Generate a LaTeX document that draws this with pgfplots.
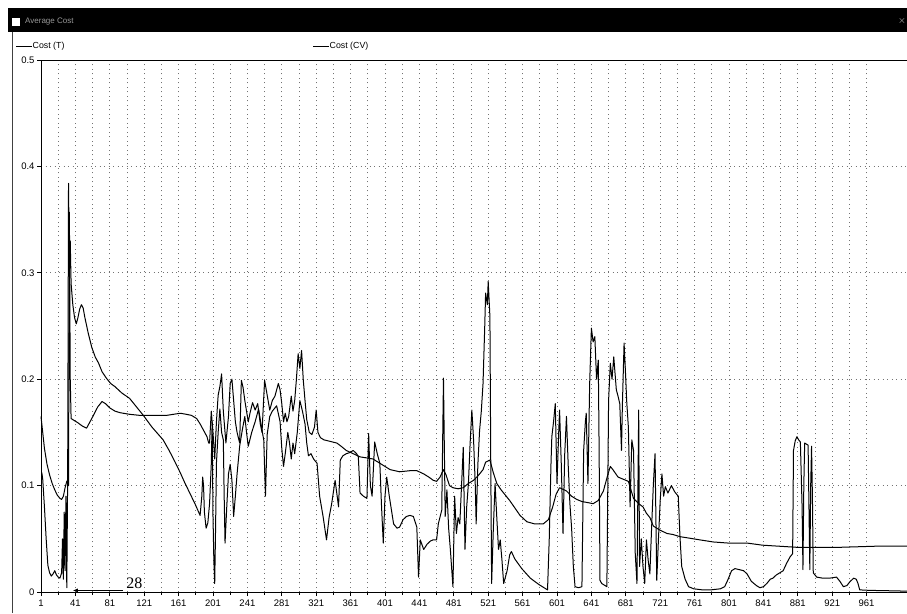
\documentclass[border=0pt]{standalone}
\usepackage{fontspec}
\setmainfont{Liberation Sans}
\newfontfamily\serifnum{Liberation Serif}
\usepackage{pgfplots}
\pgfplotsset{compat=1.18}
\usetikzlibrary{arrows.meta}
\begin{document}
\begin{tikzpicture}[x=1pt,y=1pt]
\path[use as bounding box] (0,0) rectangle (907,613);
% window title bar
\fill[black] (8,581) rectangle (907,605);
\fill[white] (12,587) rectangle (20,595);
\node[anchor=west, text=black!40, font=\fontsize{8}{9}\selectfont, inner sep=0pt] at (25,591) {Average Cost};
\node[text=white!85!black, font=\fontsize{10}{10}\selectfont, inner sep=0pt] at (902,592) {$\times$};
\draw[line width=1.8pt, black!75] (12.5,0) -- (12.5,581);
% legend
\draw[black, line width=0.8pt] (16,567) -- (32,567);
\node[anchor=west, font=\fontsize{8.8}{10}\selectfont, inner sep=0pt] at (32.5,567) {Cost (T)};
\draw[black, line width=0.8pt] (313,567) -- (329,567);
\node[anchor=west, font=\fontsize{8.8}{10}\selectfont, inner sep=0pt] at (329.5,567) {Cost (CV)};
\begin{axis}[
  at={(41pt,21pt)}, anchor=south west,
  scale only axis, width=866pt, height=532pt,
  xmin=1, xmax=1008, ymin=0, ymax=0.5,
  axis x line*=bottom, axis y line*=left,
  axis line style={black, line width=0.9pt},
  xtick={1,41,...,961}, minor x tick num=1,
  ytick={0,0.1,0.2,0.3,0.4,0.5},
  yticklabels={0,0.1,0.2,0.3,0.4,0.5},
  tick align=outside, major tick length=4pt, minor tick length=2.5pt,
  tick style={black, line width=0.7pt},
  xmajorgrids, xminorgrids, ymajorgrids,
  major grid style={black!55, line width=0.6pt, dash pattern=on 1pt off 3.5pt},
  minor grid style={black!55, line width=0.6pt, dash pattern=on 1pt off 3.5pt},
  /pgf/number format/assume math mode=true,
  ticklabel style={font=\fontsize{9.5}{10}\selectfont},
  xticklabel style={yshift=0pt},
  yticklabel style={xshift=1pt},
  clip=false,
]
% Cost (T)
\addplot[black, line width=1pt, line join=round] coordinates {
(1,0.165)(3,0.15)(5,0.135)(8,0.12)(11,0.11)(14,0.102)(17,0.096)(20,0.091)(23,0.088)(25,0.087)(27,0.09)(29,0.098)(31,0.104)(32,0.105)(33,0.384)(34,0.30)(35,0.33)(36,0.29)(38,0.27)(40,0.258)(42,0.252)(44,0.258)(46,0.266)(48,0.27)(50,0.267)(52,0.258)(56,0.243)(60,0.23)(64,0.221)(68,0.215)(72,0.207)(77,0.201)(82,0.196)(87,0.193)(95,0.187)(104,0.182)(112,0.174)(120,0.166)(130,0.155)(143,0.143)(150,0.133)(157,0.122)(163,0.112)(168,0.103)(174,0.093)(180,0.083)(186,0.072)
(188,0.09)(189,0.108)(190,0.1)(191,0.075)(193,0.06)(195,0.065)(197,0.083)(199,0.12)(200,0.16)(201,0.071)(202,0.03)(203,0.008)(204,0.06)(205,0.121)(207,0.15)(209,0.172)(211,0.15)(213,0.143)(214,0.09)(215,0.046)(217,0.08)(219,0.111)(221,0.12)(223,0.105)(225,0.071)(227,0.09)(229,0.111)(232,0.137)(235,0.152)(238,0.165)(240,0.15)(242,0.137)(246,0.15)(250,0.16)(254,0.172)(258,0.152)(260,0.143)(262,0.09)(264,0.148)(267,0.165)(270,0.17)(275,0.175)(279,0.16)(281,0.135)(283,0.118)(285,0.13)(288,0.15)(290,0.14)(292,0.125)(294,0.14)(296,0.13)(299,0.15)(302,0.18)(305,0.17)(308,0.158)(310,0.14)(312,0.128)(315,0.13)(318,0.125)(322,0.121)(325,0.09)(329,0.071)(333,0.049)(336,0.07)(339,0.083)(343,0.105)(347,0.08)(349,0.124)(352,0.128)(356,0.13)(360,0.131)(364,0.133)(368,0.13)(370,0.127)(372,0.093)(376,0.09)(380,0.088)(382,0.149)(384,0.1)(386,0.09)(389,0.141)(392,0.13)(395,0.121)(397,0.08)(399,0.046)(401,0.09)(403,0.108)(406,0.09)(411,0.064)(415,0.06)(418,0.061)(422,0.068)(426,0.071)(430,0.072)(434,0.071)(438,0.061)(440,0.014)(442,0.049)(446,0.04)(450,0.045)(454,0.048)(457,0.049)(461,0.049)(463,0.064)(467,0.077)(469,0.201)(471,0.071)(473,0.096)(475,0.06)(477,0.04)(480,0.005)(482,0.09)(484,0.055)(486,0.07)(488,0.064)(490,0.1)(492,0.136)(494,0.04)(496,0.08)(498,0.102)(500,0.14)(502,0.171)(504,0.143)(506,0.1)(507,0.064)(509,0.12)(511,0.152)(513,0.17)(515,0.196)(517,0.25)(518,0.281)(520,0.27)(521,0.292)(523,0.259)(524,0.12)(525,0.008)(527,0.06)(529,0.102)(531,0.07)(533,0.04)(535,0.049)(537,0.03)(539,0.008)(543,0.02)(546,0.035)(548,0.038)(552,0.031)(560,0.022)(570,0.013)(580,0.007)(588,0.003)(590,0.002)(592,0.05)(594,0.12)(595,0.146)(597,0.16)(599,0.177)(601,0.102)(603,0.15)(604,0.171)(606,0.12)(608,0.055)(610,0.13)(612,0.165)(614,0.12)(616,0.083)(618,0.06)(620,0.024)(622,0.005)(626,0.004)(630,0.005)(632,0.133)(634,0.16)(635,0.168)(637,0.102)(639,0.196)(641,0.248)(643,0.235)(645,0.24)(647,0.2)(649,0.218)(650,0.133)(651,0.011)(653,0.008)(657,0.006)(659,0.005)(661,0.18)(663,0.215)(665,0.2)(667,0.221)(670,0.19)(672,0.184)(674,0.177)(676,0.133)(677,0.174)(679,0.234)(681,0.2)(682,0.18)(684,0.155)(686,0.08)(688,0.143)(690,0.133)(692,0.036)(694,0.008)(696,0.171)(697,0.024)(699,0.05)(701,0.024)(703,0.008)(705,0.049)(707,0.03)(709,0.017)(711,0.06)(713,0.1)(715,0.13)(717,0.011)(719,0.05)(721,0.086)(723,0.111)(725,0.09)(727,0.099)(730,0.093)(734,0.1)(738,0.094)(742,0.09)(744,0.052)(746,0.024)(750,0.012)(754,0.005)(760,0.003)(770,0.002)(780,0.002)(791,0.003)(796,0.005)(800,0.012)(804,0.02)(808,0.022)(813,0.021)(818,0.02)(822,0.017)(827,0.01)(833,0.006)(837,0.004)(841,0.005)(845,0.008)(849,0.012)(852,0.013)(856,0.016)(860,0.018)(864,0.02)(868,0.027)(872,0.033)(875,0.036)(876,0.133)(878,0.142)(880,0.146)(882,0.143)(884,0.141)(886,0.08)(887,0.021)(888,0.1)(889,0.14)(891,0.139)(893,0.138)(895,0.021)(896,0.1)(897,0.137)(898,0.09)(899,0.018)(903,0.014)(910,0.013)(918,0.013)(926,0.014)(930,0.01)(934,0.005)(938,0.006)(942,0.01)(946,0.013)(949,0.012)(951,0.008)(953,0.002)(965,0.0015)(980,0.0013)(1008,0.0008)
};
% Cost (CV)
\addplot[black, line width=1pt, line join=round] coordinates {
(1,0.112)(2,0.112)(3,0.106)(5,0.08)(7,0.05)(9,0.025)(11,0.018)(13,0.015)(15,0.017)(17,0.02)(19,0.016)(21,0.014)(23,0.013)(25,0.018)(26,0.05)(27,0.012)(28,0.075)(29,0.02)(30,0.09)(31,0.004)(32,0.11)(33,0.1)(34,0.357)(35,0.2)(36,0.163)(40,0.161)(44,0.159)(49,0.156)(54,0.154)(58,0.16)(62,0.166)(67,0.174)(72,0.179)(76,0.177)(81,0.173)(87,0.17)(93,0.1685)(104,0.167)(116,0.166)(130,0.166)(147,0.166)(155,0.167)(163,0.168)(170,0.167)(176,0.166)(182,0.163)(186,0.158)(188,0.155)(190,0.152)(194,0.146)(196,0.14)
(197,0.14)(199,0.17)(201,0.15)(203,0.125)(205,0.16)(207,0.185)(209,0.193)(211,0.205)(213,0.17)(216,0.14)(219,0.165)(221,0.196)(223,0.2)(225,0.18)(227,0.16)(229,0.15)(232,0.14)(234,0.199)(236,0.192)(238,0.18)(240,0.17)(242,0.16)(244,0.168)(247,0.178)(250,0.171)(253,0.177)(256,0.158)(258,0.15)(261,0.199)(264,0.185)(267,0.171)(270,0.18)(273,0.184)(275,0.19)(277,0.196)(279,0.19)(281,0.177)(283,0.16)(285,0.168)(287,0.16)(289,0.165)(292,0.184)(294,0.17)(296,0.18)(298,0.2)(300,0.224)(302,0.21)(304,0.227)(306,0.199)(308,0.18)(310,0.162)(313,0.15)(316,0.148)(319,0.155)(321,0.171)(323,0.15)(326,0.145)(330,0.143)(335,0.142)(340,0.141)(345,0.14)(350,0.137)(356,0.133)(364,0.13)(372,0.127)(380,0.126)(387,0.125)(395,0.121)(401,0.118)(407,0.115)(418,0.113)(430,0.114)(438,0.114)(446,0.111)(452,0.108)(457,0.105)(461,0.104)(465,0.108)(469,0.115)(472,0.11)(476,0.1)(480,0.098)(486,0.097)(492,0.098)(498,0.102)(504,0.105)(510,0.11)(515,0.115)(518,0.122)(523,0.124)(527,0.112)(531,0.102)(536,0.096)(540,0.092)(546,0.086)(552,0.079)(558,0.072)(566,0.066)(575,0.064)(585,0.064)(591,0.068)(596,0.08)(600,0.092)(604,0.098)(612,0.095)(618,0.09)(624,0.087)(630,0.085)(637,0.084)(643,0.083)(649,0.086)(655,0.095)(660,0.11)(663,0.118)(666,0.115)(672,0.108)(678,0.106)(684,0.104)(690,0.088)(696,0.083)(701,0.08)(705,0.074)(709,0.07)(713,0.062)(721,0.058)(729,0.055)(736,0.054)(744,0.052)(752,0.051)(767,0.049)(783,0.047)(800,0.046)(822,0.046)(840,0.044)(860,0.043)(880,0.042)(899,0.042)(930,0.042)(970,0.043)(1008,0.043)
};
\draw[black, line width=0.7pt] (rel axis cs:0,1) -- (rel axis cs:1,1);
\draw[{Latex[length=5pt,width=4pt]}-, black, line width=0.8pt] (axis cs:38,0.0015) -- (axis cs:96,0.0015);
\node[anchor=base west, inner sep=0pt, font=\serifnum\fontsize{16}{18}\selectfont] at (axis cs:100,0.003) {28};
\end{axis}
\end{tikzpicture}
\end{document}
